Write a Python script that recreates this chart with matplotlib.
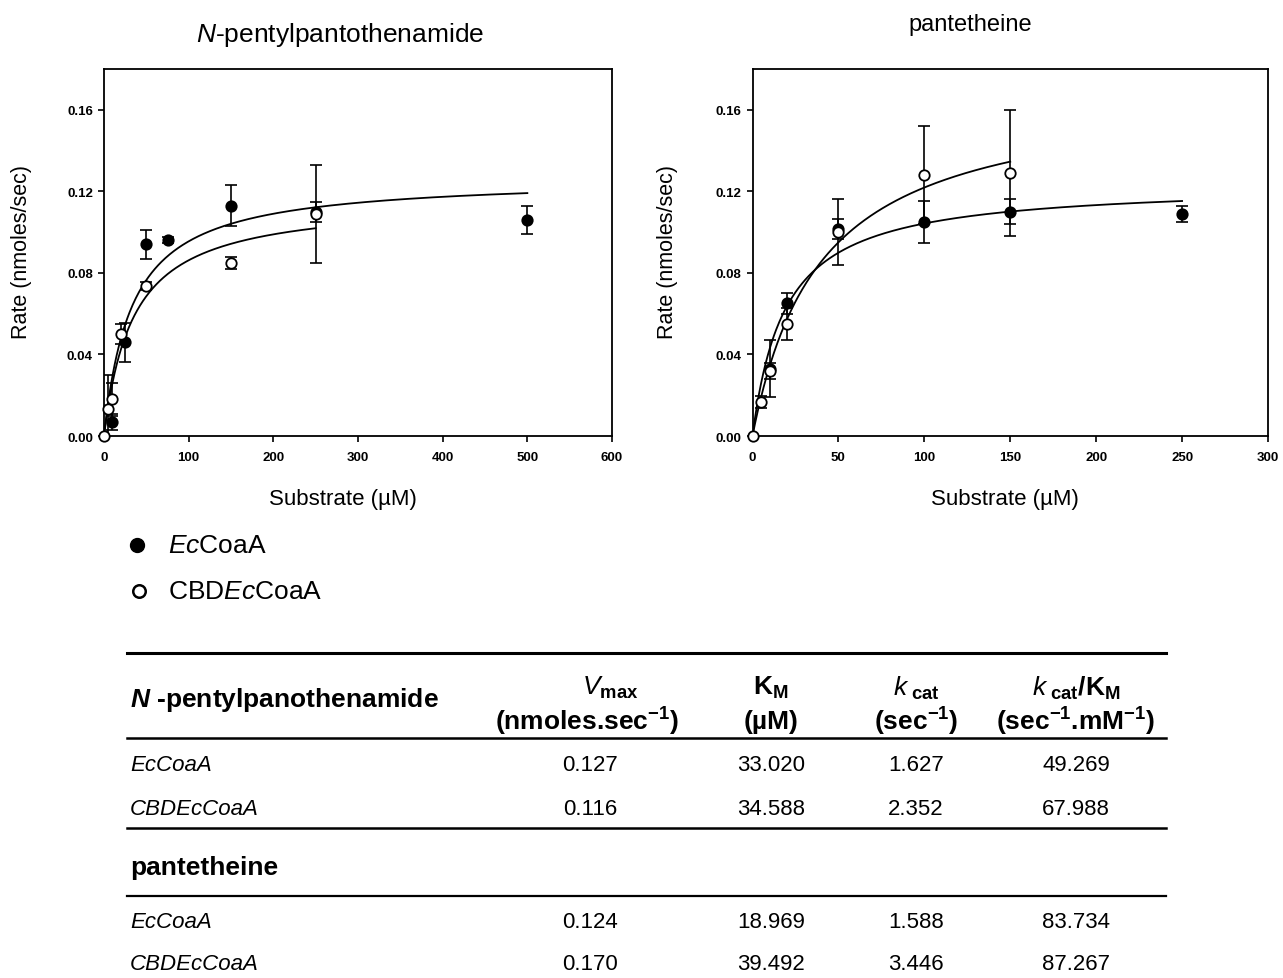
import numpy as np
import matplotlib
matplotlib.use("Agg")
import matplotlib.pyplot as plt
from matplotlib.lines import Line2D
from matplotlib.ticker import FormatStrFormatter, MultipleLocator

plt.rcParams.update({
    "font.family": ["Liberation Sans", "DejaVu Sans"],
    "mathtext.fontset": "custom",
    "mathtext.rm": "Liberation Sans",
    "mathtext.it": "Liberation Sans:italic",
    "mathtext.bf": "Liberation Sans:bold",
    "mathtext.bfit": "Liberation Sans:italic:bold",
    "mathtext.default": "regular",
})

# ---- kinetic measurements -------------------------------------------------
# N-pentylpantothenamide
npp_ec_x = [10, 25, 50, 75, 150, 250, 500]
npp_ec_y = [0.007, 0.046, 0.094, 0.096, 0.113, 0.110, 0.106]
npp_ec_err = [0.004, 0.0095, 0.007, 0.0015, 0.010, 0.005, 0.007]

npp_cbd_x = [0, 5, 10, 20, 50, 150, 250]
npp_cbd_y = [0.0, 0.013, 0.018, 0.050, 0.0735, 0.085, 0.109]
npp_cbd_err = [0.0, 0.017, 0.008, 0.005, 0.002, 0.003, 0.024]

# pantetheine
pan_ec_x = [10, 20, 50, 100, 150, 250]
pan_ec_y = [0.033, 0.065, 0.1016, 0.105, 0.110, 0.109]
pan_ec_err = [0.014, 0.005, 0.005, 0.0105, 0.006, 0.004]

pan_cbd_x = [0, 5, 10, 20, 50, 100, 150]
pan_cbd_y = [0.0, 0.0165, 0.032, 0.055, 0.100, 0.128, 0.129]
pan_cbd_err = [0.0, 0.003, 0.004, 0.008, 0.016, 0.024, 0.031]

# ---- Michaelis-Menten parameters (table) ----------------------------------
enzymes = ["EcCoaA", "CBDEcCoaA"]
npp_vmax = [0.127, 0.116]
npp_km = [33.020, 34.588]
npp_kcat = [1.627, 2.352]
npp_kcat_km = [49.269, 67.988]

pan_vmax = [0.124, 0.170]
pan_km = [18.969, 39.492]
pan_kcat = [1.588, 3.446]
pan_kcat_km = [83.734, 87.267]

W, H = 1283, 979
fig = plt.figure(figsize=(W / 100, H / 100), dpi=100)


def fx(x):
    return x / W


def fy(y):
    return 1 - y / H


def mm(vmax, km, s):
    return vmax * s / (km + s)


def draw_series(ax, x, y, err, filled):
    ax.errorbar(x, y, yerr=err, fmt="none", ecolor="black", elinewidth=1.2,
                capsize=4, capthick=1.2, zorder=3)
    ax.plot(x, y, linestyle="none", marker="o", markersize=7.5,
            markerfacecolor="black" if filled else "white",
            markeredgecolor="black", markeredgewidth=1.3, zorder=4,
            clip_on=False)


def style_axes(ax, xmax, xstep):
    ax.set_xlim(0, xmax)
    ax.set_ylim(0, 0.18)
    ax.xaxis.set_major_locator(MultipleLocator(xstep))
    ax.set_yticks([0.0, 0.04, 0.08, 0.12, 0.16])
    ax.yaxis.set_major_formatter(FormatStrFormatter("%.2f"))
    ax.tick_params(direction="out", length=4, width=1.2, labelsize=9.5)
    ax.tick_params(axis="x", pad=7)
    ax.tick_params(axis="y", pad=4)
    for lab in ax.get_xticklabels() + ax.get_yticklabels():
        lab.set_fontweight("bold")
    for sp in ax.spines.values():
        sp.set_linewidth(1.3)


# left panel
ax1 = fig.add_axes([fx(104), fy(437), fx(612) - fx(104), fy(70) - fy(437)])
s = np.linspace(0, 500, 400)
ax1.plot(s, mm(npp_vmax[0], npp_km[0], s), color="black", lw=1.3, zorder=2)
s = np.linspace(0, 250, 300)
ax1.plot(s, mm(npp_vmax[1], npp_km[1], s), color="black", lw=1.3, zorder=2)
draw_series(ax1, npp_ec_x, npp_ec_y, npp_ec_err, True)
draw_series(ax1, npp_cbd_x, npp_cbd_y, npp_cbd_err, False)
style_axes(ax1, 600, 100)

# right panel
ax2 = fig.add_axes([fx(752.5), fy(437), fx(1268) - fx(752.5), fy(70) - fy(437)])
s = np.linspace(0, 250, 400)
ax2.plot(s, mm(pan_vmax[0], pan_km[0], s), color="black", lw=1.3, zorder=2)
s = np.linspace(0, 150, 300)
ax2.plot(s, mm(pan_vmax[1], pan_km[1], s), color="black", lw=1.3, zorder=2)
draw_series(ax2, pan_ec_x, pan_ec_y, pan_ec_err, True)
draw_series(ax2, pan_cbd_x, pan_cbd_y, pan_cbd_err, False)
style_axes(ax2, 300, 50)

# titles and axis labels
fig.text(fx(340), fy(35), r"$\mathit{N}$-pentylpantothenamide", fontsize=19,
         ha="center", va="center")
fig.text(fx(970), fy(25), "pantetheine", fontsize=17, ha="center", va="center")
for xl in (22, 668):
    fig.text(fx(xl), fy(252), "Rate (nmoles/sec)", fontsize=15.5, rotation=90,
             ha="center", va="center")
fig.text(fx(343), fy(500), "Substrate (µM)", fontsize=16, ha="center", va="center")
fig.text(fx(1005), fy(500), "Substrate (µM)", fontsize=16, ha="center", va="center")

# legend
fig.add_artist(Line2D([fx(137)], [fy(546)], marker="o", markersize=10,
                      markerfacecolor="black", markeredgecolor="black",
                      linestyle="none"))
fig.add_artist(Line2D([fx(139)], [fy(592)], marker="o", markersize=9,
                      markerfacecolor="white", markeredgecolor="black",
                      markeredgewidth=1.8, linestyle="none"))
fig.text(fx(168), fy(546), r"$\mathit{Ec}$CoaA", fontsize=19, ha="left", va="center")
fig.text(fx(168), fy(592), r"CBD$\mathit{Ec}$CoaA", fontsize=19, ha="left", va="center")

# kinetic parameter table
x0, x1 = 127, 1166
col_x = [590, 771, 916, 1076]


def hline(y, lw):
    fig.add_artist(Line2D([fx(x0), fx(x1)], [fy(y), fy(y)], color="black", lw=lw))


hline(654, 2.2)
hline(739, 1.8)
hline(829, 1.8)
hline(897, 1.6)

hdr = dict(fontsize=19, fontweight="bold", va="center")
fig.text(fx(130), fy(700), r"$\mathbfit{N}$ -pentylpanothenamide", ha="left", **hdr)
fig.text(fx(610), fy(688), r"$\mathit{V}_{\mathbf{max}}$", ha="center", **hdr)
fig.text(fx(587), fy(722), r"(nmoles.sec$^{\mathbf{-1}}$)", ha="center", **hdr)
fig.text(fx(col_x[1]), fy(688), r"$\mathbf{K}_{\mathbf{M}}$", ha="center", **hdr)
fig.text(fx(col_x[1]), fy(722), "(µM)", ha="center", **hdr)
fig.text(fx(col_x[2]), fy(688), r"$\mathit{k}_{\ \mathbf{cat}}$", ha="center", **hdr)
fig.text(fx(col_x[2]), fy(722), r"(sec$^{\mathbf{-1}}$)", ha="center", **hdr)
fig.text(fx(col_x[3]), fy(688), r"$\mathit{k}_{\ \mathbf{cat}}\mathbf{/K}_{\mathbf{M}}$",
         ha="center", **hdr)
fig.text(fx(col_x[3]), fy(722), r"(sec$^{\mathbf{-1}}$.mM$^{\mathbf{-1}}$)",
         ha="center", **hdr)
fig.text(fx(130), fy(868), "pantetheine", ha="left", **hdr)

row = dict(fontsize=16, va="center")
blocks = [
    ([766, 810], npp_vmax, npp_km, npp_kcat, npp_kcat_km),
    ([923, 965], pan_vmax, pan_km, pan_kcat, pan_kcat_km),
]
for ys, vm, km, kc, kk in blocks:
    for i, y in enumerate(ys):
        fig.text(fx(130), fy(y), enzymes[i], style="italic", ha="left", **row)
        vals = [f"{vm[i]:.3f}", f"{km[i]:.3f}", f"{kc[i]:.3f}", f"{kk[i]:.3f}"]
        for cx, v in zip(col_x, vals):
            fig.text(fx(cx), fy(y), v, ha="center", **row)

fig.savefig("out.png", dpi=100)
